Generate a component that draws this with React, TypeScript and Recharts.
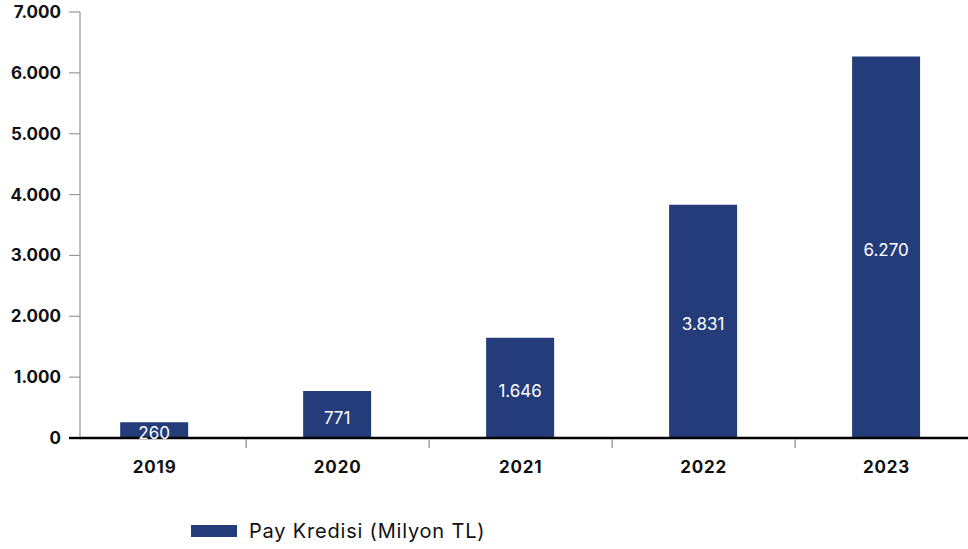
import React from "react";
import { BarChart, Bar, XAxis, YAxis, Legend, LabelList } from "recharts";

const years = ["2019", "2020", "2021", "2022", "2023"];
const payKredisi = [260, 771, 1646, 3831, 6270];
const yTicks = [0, 1000, 2000, 3000, 4000, 5000, 6000, 7000];
const seriesName = "Pay Kredisi (Milyon TL)";

const BAR_COLOR = "#243d7a";
const FONT = "Inter, 'Noto Sans', sans-serif";

const data = years.map((year, i) => ({ idx: i, year, value: payKredisi[i] }));

// integer ticks carry the year label, half steps are the short separators
const xTicks: number[] = [];
years.forEach((_, i) => {
  xTicks.push(i);
  if (i < years.length - 1) xTicks.push(i + 0.5);
});

const fmt = (v: number) => v.toLocaleString("de-DE");

function XTick(props: any) {
  const { x, y, payload } = props;
  const v = payload.value as number;
  if (Number.isInteger(v)) {
    return (
      <text x={x} y={y + 29} textAnchor="middle" dominantBaseline="central" fontFamily={FONT} fontSize={17} fontWeight={700} letterSpacing={0.8} fill="#111">
        {years[v]}
      </text>
    );
  }
  return <line x1={x} x2={x} y1={y + 1} y2={y + 10} stroke="#888" strokeWidth={1.2} />;
}

function YTick(props: any) {
  const { x, y, payload } = props;
  const v = payload.value as number;
  return (
    <g>
      {v === 0 && <line x1={x + 8} x2={x + 20} y1={y} y2={y} stroke="#000" strokeWidth={2.4} />}
      <text x={x} y={y} textAnchor="end" dominantBaseline="central" fontFamily={FONT} fontSize={17} fontWeight={700} fill="#111">
        {fmt(v)}
      </text>
    </g>
  );
}

function LegendContent() {
  return (
    <div style={{ display: "flex", alignItems: "center", fontFamily: FONT }}>
      <div style={{ width: 46, height: 12, background: BAR_COLOR, marginRight: 12 }} />
      <span style={{ fontSize: 20, color: "#111", letterSpacing: 0.8 }}>{seriesName}</span>
    </div>
  );
}

export default function App() {
  return (
    <div style={{ position: "absolute", left: 0, top: 0, width: 968, height: 549, background: "#fff" }}>
      <BarChart width={968} height={549} data={data} margin={{ top: 12, right: 0, left: 0, bottom: 71 }}>
        <XAxis
          dataKey="idx"
          type="number"
          domain={[-0.408, 4.445]}
          ticks={xTicks}
          interval={0}
          height={40}
          tickSize={0}
          tickMargin={0}
          tickLine={false}
          axisLine={{ stroke: "#000", strokeWidth: 2.4 }}
          tick={<XTick />}
        />
        <YAxis
          domain={[0, 7000]}
          ticks={yTicks}
          interval={0}
          width={80}
          tickSize={11}
          tickMargin={8}
          axisLine={{ stroke: "#aaa", strokeWidth: 1.5 }}
          tickLine={{ stroke: "#999", strokeWidth: 1.2 }}
          tick={<YTick />}
        />
        <Legend
          layout="horizontal"
          verticalAlign="middle"
          align="center"
          wrapperStyle={{ top: 519, left: 191, width: 420, height: 26 }}
          content={<LegendContent />}
        />
        <Bar dataKey="value" name={seriesName} fill={BAR_COLOR} barSize={68} isAnimationActive={false}>
          <LabelList dataKey="value" position="center" formatter={(v: any) => fmt(Number(v))} fill="#fff" fontFamily={FONT} fontSize={17} dy={3} />
        </Bar>
      </BarChart>
    </div>
  );
}
